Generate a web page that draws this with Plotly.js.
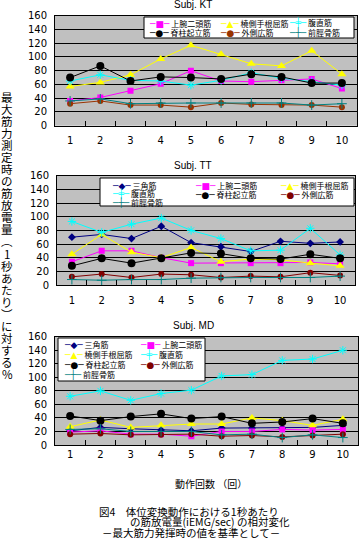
<!DOCTYPE html>
<html><head><meta charset="utf-8">
<script src="https://cdn.plot.ly/plotly-3.0.1.min.js"></script>
<style>html,body{margin:0;padding:0;background:#fff}</style>
</head><body><div id="chart" style="width:360px;height:543px"></div>
<script>
// ---- data ----
const trials = ['1','2','3','4','5','6','7','8','9','10'];

// Subj. KT
const ktBiceps  = [36, 41, 51, 61, 80, 65, 64, 66, 68, 54];
const ktFCR     = [57, 63, 74, 97, 117, 104, 90, 87, 109, 75];
const ktRectus  = [65, 74, 66, 65, 59, 66, 77, 69, 64, 59];
const ktErector = [70, 87, 65, 71, 70, 68, 75, 71, 62, 62];
const ktVL      = [32, 36, 30, 30, 27, 33, 31, 30, 30, 27];
const ktTA      = [36, 39, 32, 33, 33, 33, 33, 33, 30, 32];

// Subj. TT
const ttDeltoid = [70, 74, 68, 86, 62, 56, 49, 64, 61, 63];
const ttBiceps  = [34, 50, 50, 40, 32, 32, 32, 32, 33, 31];
const ttFCR     = [45, 74, 48, 40, 55, 34, 38, 37, 32, 28];
const ttRectus  = [93, 77, 89, 98, 80, 68, 50, 51, 83, 44];
const ttErector = [28, 39, 32, 39, 47, 46, 39, 38, 45, 39];
const ttVL      = [12, 16, 11, 16, 15, 11, 13, 12, 18, 14];
const ttTA      = [8, 7, 8, 8, 10, 11, 11, 11, 11, 13];

// Subj. MD
const mdDeltoid = [21, 26, 24, 22, 21, 25, 25, 25, 26, 29];
const mdBiceps  = [19, 21, 16, 16, 13, 20, 20, 23, 22, 23];
const mdFCR     = [27, 37, 26, 29, 31, 31, 40, 36, 29, 38];
const mdRectus  = [72, 80, 66, 76, 81, 102, 104, 125, 127, 140];
const mdErector = [43, 36, 42, 46, 39, 42, 32, 34, 39, 32];
const mdVL      = [16, 17, 15, 15, 16, 13, 14, 12, 14, 16];
const mdTA      = [23, 24, 20, 20, 20, 15, 16, 11, 15, 11];

const panelTitles = ['Subj. KT', 'Subj. TT', 'Subj. MD'];
const yTitle = '最大筋力測定時の筋放電量︵1秒あたり︶に対する%';
const xTitle = '動作回数 （回）';
const captionLines = ['図4　体位変換動作における1秒あたり', 'の筋放電量(iEMG/sec) の相対変化', '－最大筋力発揮時の値を基準として－'];

const M_DEL = '三角筋', M_BIC = '上腕二頭筋', M_FCR = '橈側手根屈筋', M_REC = '腹直筋',
      M_ERE = '脊柱起立筋', M_VL = '外側広筋', M_TA = '前脛骨筋';

// ---- styles ----
const styles = {};
styles[M_DEL] = {color:'#000080', symbol:'diamond', size:6, key:'◆'};
styles[M_BIC] = {color:'#FF00FF', symbol:'square', size:6, key:'■'};
styles[M_FCR] = {color:'#FFFF00', symbol:'triangle-up', size:8, key:'▲'};
styles[M_REC] = {color:'#00FFFF', symbol:'asterisk-open', size:7, key:'╪'};
styles[M_ERE] = {color:'#000000', symbol:'circle', size:8, key:'●'};
styles[M_VL]  = {color:'#800000', symbol:'circle', size:6, key:'●'};
styles[M_TA]  = {color:'#008080', symbol:'cross-thin-open', size:7, key:'┼'};
const vlColorKT = '#993300';

const W = 360, H = 543;
const px = v => v / W;
const py = v => 1 - v / H;

const panels = [
  {xa:'x', ya:'y', series:[[M_BIC, ktBiceps],[M_FCR, ktFCR],[M_REC, ktRectus],[M_ERE, ktErector],[M_VL, ktVL],[M_TA, ktTA]],
   vlColor: vlColorKT, xdom:[55,357], ydom:[15.7,125.7], titleY:5, standoff:5,
   legend:{box:[144,354,17,38], colX:[147,218,287], rowY:[23,33], rows:[[M_BIC,M_FCR,M_REC],[M_ERE,M_VL,M_TA]]}},
  {xa:'x2', ya:'y2', series:[[M_DEL, ttDeltoid],[M_BIC, ttBiceps],[M_FCR, ttFCR],[M_REC, ttRectus],[M_ERE, ttErector],[M_VL, ttVL],[M_TA, ttTA]],
   vlColor: '#800000', xdom:[57,355], ydom:[175.7,285], titleY:165, standoff:6,
   legend:{box:[100,354,178,206], colX:[110,193,278], rowY:[185,194,202.5], rows:[[M_DEL,M_BIC,M_FCR],[M_REC,M_ERE,M_VL],[M_TA]]}},
  {xa:'x3', ya:'y3', series:[[M_DEL, mdDeltoid],[M_BIC, mdBiceps],[M_FCR, mdFCR],[M_REC, mdRectus],[M_ERE, mdErector],[M_VL, mdVL],[M_TA, mdTA]],
   vlColor: '#800000', xdom:[55,358], ydom:[336.7,445], titleY:325, standoff:0,
   legend:{box:[58,205,338,381], colX:[62,138], rowY:[344.5,354.5,364.5,375], rows:[[M_DEL,M_BIC],[M_FCR,M_REC],[M_ERE,M_VL],[M_TA]]}}
];

const traces = [];
const shapes = [];
const annotations = [];
const layout = {
  width: W, height: H, margin:{l:0,r:0,t:0,b:0}, showlegend:false,
  paper_bgcolor:'#ffffff', plot_bgcolor:'#C0C0C0',
  font:{family:'DejaVu Sans', size:10, color:'#000'}
};

panels.forEach((p, i) => {
  const sfx = i === 0 ? '' : String(i + 1);
  layout['xaxis' + sfx] = {
    domain:[px(p.xdom[0]), px(p.xdom[1])], anchor: p.ya, type:'category', range:[-0.5, 9.5],
    tickson:'boundaries', ticks:'inside', ticklen:5, tickcolor:'#000', tickwidth:1,
    showgrid:false, showline:true, linecolor:'#000', linewidth:1, mirror:true, zeroline:false,
    tickfont:{family:'DejaVu Sans', size:10, color:'#000'}, ticklabelstandoff:p.standoff,
    fixedrange:true, automargin:false
  };
  layout['yaxis' + sfx] = {
    domain:[py(p.ydom[1]), py(p.ydom[0])], anchor: p.xa, range:[0,160], dtick:20, tick0:0,
    showgrid:true, gridcolor:'#000', gridwidth:1, showline:true, linecolor:'#000', linewidth:1,
    mirror:true, ticks:'', zeroline:false, ticklabelstandoff:5,
    tickfont:{family:'DejaVu Sans', size:10, color:'#000'}, fixedrange:true, automargin:false
  };
  p.series.forEach(([name, vals]) => {
    const st = styles[name];
    const color = name === M_VL ? p.vlColor : st.color;
    const open = st.symbol.endsWith('-open');
    traces.push({
      type:'scatter', mode:'lines+markers', name, x: trials, y: vals, xaxis:p.xa, yaxis:p.ya,
      line:{color, width:1},
      marker:{symbol:st.symbol, size:st.size, color, line:{color, width: open ? 1 : 0}}
    });
  });
  // panel title
  annotations.push({xref:'paper', yref:'paper', x:px(193), y:py(p.titleY), xanchor:'center', yanchor:'middle',
    text:panelTitles[i], showarrow:false, font:{family:'Liberation Sans', size:10, color:'#000'}});
  // legend box
  const L = p.legend;
  shapes.push({type:'rect', xref:'paper', yref:'paper', x0:px(L.box[0]), x1:px(L.box[1]), y0:py(L.box[3]), y1:py(L.box[2]),
    fillcolor:'#ffffff', line:{color:'#000', width:1}, layer:'above'});
  L.rows.forEach((row, r) => {
    row.forEach((name, c) => {
      const st = styles[name];
      const color = name === M_VL ? p.vlColor : st.color;
      annotations.push({xref:'paper', yref:'paper', x:px(L.colX[c]), y:py(L.rowY[r]), xanchor:'left', yanchor:'middle',
        showarrow:false,
        text:'<span style="font-family:DejaVu Sans;font-size:9px;color:' + color + '">─' + st.key + '─</span> ' + name,
        font:{family:'Noto Sans CJK JP', size:8, color:'#000'}});
    });
  });
});

// vertical y-axis title, one character per line
Array.from(yTitle).forEach((ch, k) => {
  annotations.push({xref:'paper', yref:'paper', x:px(7), y:py(97 + k * 12.04), xanchor:'center', yanchor:'middle',
    text:ch, showarrow:false, font:{family:'Noto Sans CJK JP', size:11.5, color:'#000'}});
});

// x-axis title and caption
annotations.push({xref:'paper', yref:'paper', x:px(211), y:py(483), xanchor:'center', yanchor:'middle',
  text:xTitle, showarrow:false, font:{family:'Noto Sans CJK JP', size:10, color:'#000'}});
const capX = [97, 128, 100], capY = [511, 521.5, 532];
captionLines.forEach((t, k) => {
  annotations.push({xref:'paper', yref:'paper', x:px(capX[k]), y:py(capY[k]), xanchor:'left', yanchor:'middle',
    text:t, showarrow:false, font:{family:'Noto Sans CJK JP', size:10.5, color:'#000'}});
});

layout.shapes = shapes;
layout.annotations = annotations;
Plotly.newPlot('chart', traces, layout, {staticPlot:true, displayModeBar:false});
</script></body></html>
